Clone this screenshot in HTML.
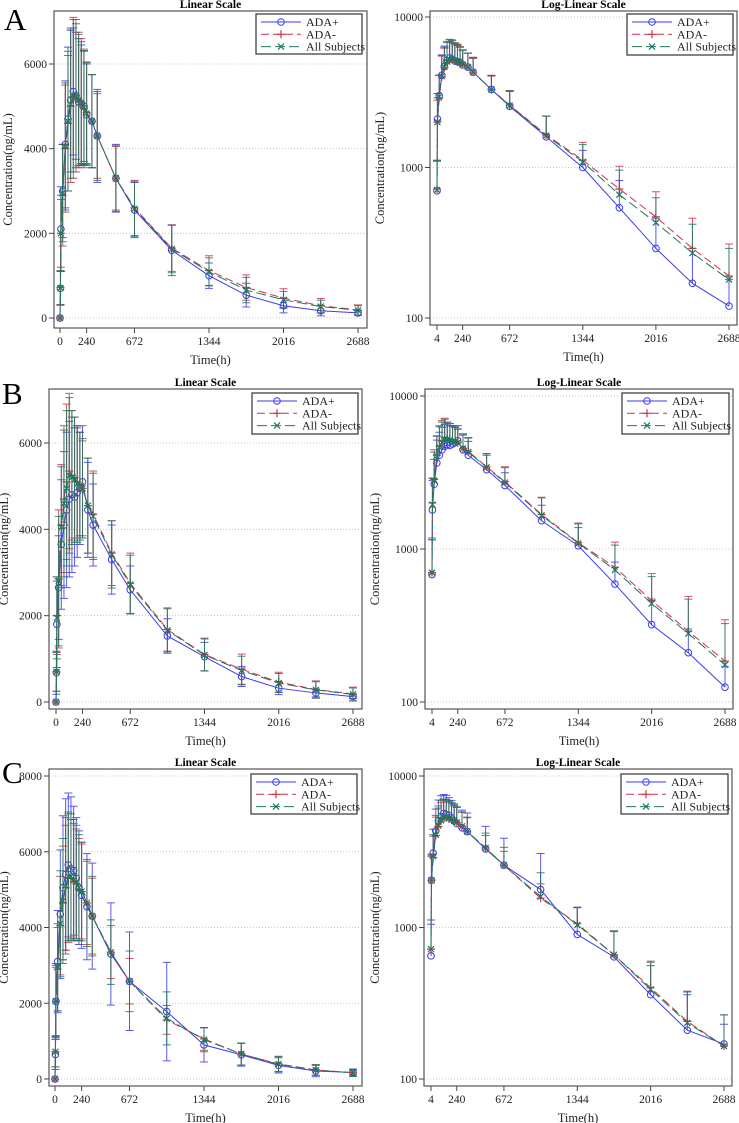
<!DOCTYPE html>
<html><head><meta charset="utf-8">
<style>
html,body{margin:0;padding:0;background:#fff;}
svg{display:block;font-family:"Liberation Serif",serif;}
svg text{font-family:"Liberation Serif",serif;}
</style></head>
<body>
<svg id="fig" xmlns="http://www.w3.org/2000/svg" width="739" height="1123" viewBox="0 0 739 1123">
<text x="4" y="30" font-size="31">A</text>
<text x="2" y="404" font-size="31">B</text>
<text x="2" y="783" font-size="31">C</text>
</svg>
<script>
// ---- data ----
const times = [0,4,8,24,48,72,96,120,144,168,192,216,240,288,336,504,672,1008,1344,1680,2016,2352,2688];
const groupNames = ["ADA+","ADA-","All Subjects"];
const linTickLabelsAB = [0,2000,4000,6000];
const linTickLabelsC = [0,2000,4000,6000,8000];
const logTickLabels = [100,1000,10000];
const xTickLinear = [0,240,672,1344,2016,2688];
const xTickLog = [4,240,672,1344,2016,2688];

const aPosMean = [0,700,2100,3000,4100,4700,5150,5350,5250,5100,5050,5000,4800,4650,4300,3300,2550,1600,1000,540,290,170,120];
const aPosSd   = [0,400,1000,1100,1500,1700,1700,1500,1500,1500,1400,1300,1200,1100,1100,800,650,600,300,280,170,120,60];
const aNegMean = [0,720,2000,2900,4000,4600,5000,5200,5250,5150,5100,4950,4850,4650,4300,3300,2600,1650,1120,720,470,290,190];
const aNegSd   = [0,400,800,1200,1500,1600,1800,1900,1800,1600,1500,1400,1200,1100,1000,750,650,550,350,300,220,170,120];
const aAllMean = [0,710,2000,2950,4050,4650,5050,5250,5250,5150,5080,4970,4830,4650,4300,3300,2580,1630,1090,660,430,270,180];
const aAllSd   = [0,400,900,1150,1500,1650,1750,1800,1700,1550,1450,1350,1200,1100,1050,780,650,560,330,300,200,150,110];

const bPosMean = [0,680,1800,2650,3650,4100,4450,4700,4800,4750,4850,4950,5100,4450,4100,3300,2600,1530,1050,590,320,210,125];
const bPosSd   = [0,500,1000,1200,1500,1700,1800,1800,1800,1600,1500,1300,1300,1100,950,800,550,400,330,230,150,90,45];
const bNegMean = [0,700,2000,2850,4100,4700,5100,5350,5250,5200,5100,5050,4950,4550,4350,3450,2750,1680,1100,760,460,290,185];
const bNegSd   = [0,450,900,1600,1400,1700,1800,1800,1500,1400,1300,1200,1100,1100,1000,750,700,500,380,350,230,200,160];
const bAllMean = [0,700,1950,2800,4050,4600,4950,5250,5200,5150,5050,5000,4950,4550,4300,3420,2720,1660,1090,730,440,280,175];
const bAllSd   = [0,450,950,1500,1400,1700,1800,1800,1550,1450,1350,1250,1150,1100,1000,780,680,500,370,330,220,190,150];

const cPosMean = [0,650,2050,3100,4350,5050,5400,5650,5550,5500,5300,5050,4850,4550,4300,3300,2580,1780,900,640,360,210,170];
const cPosSd   = [0,400,1000,1350,1700,1900,2000,1900,1900,1700,1600,1500,1400,1400,1400,1350,1300,1300,450,300,200,150,60];
const cNegMean = [0,720,2050,2900,4050,4650,5050,5300,5300,5200,5150,5000,4950,4650,4300,3350,2580,1560,1060,660,400,240,165];
const cNegSd   = [0,400,900,1100,1300,1500,1650,1700,1550,1550,1450,1350,1250,1100,1000,700,600,380,300,290,200,140,100];
const cAllMean = [0,720,2050,2950,4100,4700,5100,5350,5350,5250,5200,5050,4950,4650,4300,3350,2580,1600,1040,660,390,235,165];
const cAllSd   = [0,400,950,1150,1400,1650,1800,1700,1650,1600,1500,1400,1300,1150,1050,850,800,700,320,290,200,140,100];

// ---- drawing ----
const NS = "http://www.w3.org/2000/svg";
const svg = document.getElementById("fig");
const COLORS = ["#3b3bef","#cc3346","#1c7a5c"];
const DASH = ["", "8,4", "10,4"];
function mk(tag, attrs, parent){
  const e = document.createElementNS(NS, tag);
  for (const k in attrs) e.setAttribute(k, attrs[k]);
  (parent||svg).appendChild(e);
  return e;
}
function marker(g, gi, x, y){
  const c = COLORS[gi];
  if (gi === 0){
    const m = mk("circle",{cx:x,cy:y,r:3.3,fill:"none",stroke:c,"stroke-width":1},g);
    
    
  } else if (gi === 1){
    const m = mk("path",{d:`M${x-4},${y}H${x+4}M${x},${y-4}V${y+4}`,stroke:c,"stroke-width":1.2,fill:"none"},g);
    
    
  } else {
    const m = mk("path",{d:`M${x-3},${y-3}L${x+3},${y+3}M${x-3},${y+3}L${x+3},${y-3}`,stroke:c,"stroke-width":1.2,fill:"none"},g);
    
    
  }
}
function panel(cfg, means, sds, key){
  const g = mk("g",{});
  
  
  const xS = t => cfg.xA + (t - cfg.tA) * (cfg.xB - cfg.xA) / (cfg.tB - cfg.tA);
  let yS;
  if (cfg.log) yS = v => cfg.y100 - (Math.log10(v) - 2) / 2 * (cfg.y100 - cfg.y10000);
  else yS = v => cfg.y0 - v * (cfg.y0 - cfg.yTop) / cfg.topVal;
  const yt = cfg.log ? logTickLabels : cfg.yTicks;
  yt.forEach(v=>{
    const y = yS(v);
    const gl = mk("line",{x1:cfg.fl,x2:cfg.fr,y1:y,y2:y,stroke:"#bbb","stroke-width":0.8,"stroke-dasharray":"1,2"},g);
    
    
    mk("line",{x1:cfg.fl-5,x2:cfg.fl,y1:y,y2:y,stroke:"#444","stroke-width":1},g);
    const tl = mk("text",{x:cfg.fl-7,y:y+4,"font-size":11.5,"text-anchor":"end",fill:"#222"},g);
    tl.textContent = v;
    
    
  });
  (cfg.log ? xTickLog : xTickLinear).forEach(t=>{
    const x = xS(t);
    mk("line",{x1:x,x2:x,y1:cfg.fb,y2:cfg.fb+5,stroke:"#444","stroke-width":1},g);
    const tl = mk("text",{x:x,y:cfg.fb+17,"font-size":11.5,"text-anchor":"middle",fill:"#222"},g);
    tl.textContent = t;
    
    
  });
  const fr = mk("rect",{x:cfg.fl,y:cfg.ft,width:cfg.fr-cfg.fl,height:cfg.fb-cfg.ft,fill:"none",stroke:"#555","stroke-width":1.2},g);
  
  
  const ti = mk("text",{x:(cfg.fl+cfg.fr)/2,y:cfg.ft-3,"font-size":11.5,"font-weight":"bold","text-anchor":"middle"},g);
  ti.textContent = cfg.log ? "Log-Linear Scale" : "Linear Scale";
  
  
  const xl = mk("text",{x:(cfg.fl+cfg.fr)/2,y:cfg.fb+36,"font-size":12.5,"text-anchor":"middle",fill:"#222"},g);
  xl.textContent = "Time(h)";
  
  
  const ym = (cfg.ft+cfg.fb)/2;
  const yl = mk("text",{x:cfg.yLabX,y:ym,"font-size":12.5,"text-anchor":"middle",fill:"#222",transform:`rotate(-90 ${cfg.yLabX} ${ym})`},g);
  yl.textContent = "Concentration(ng/mL)";
  
  
  for (let gi=0; gi<3; gi++){
    const sg = mk("g",{},g);
    
    
    const m = means[gi], s = sds[gi], c = COLORS[gi];
    const pts = [];
    times.forEach((t,i)=>{
      if (cfg.log && m[i] <= 0) return;
      pts.push([xS(t), yS(m[i]), i]);
    });
    pts.forEach(([x,y,i])=>{
      if (s[i] <= 0) return;
      const up = yS(m[i]+s[i]);
      let lo = y;
      if (!cfg.log) lo = yS(Math.max(0, m[i]-s[i]));
      const eb = mk("path",{d:`M${x},${up}V${lo}M${x-4},${up}H${x+4}`+(cfg.log?"":`M${x-4},${lo}H${x+4}`),stroke:c,"stroke-width":1,fill:"none","stroke-opacity":0.85},sg);
      
      
    });
    const ln = mk("polyline",{points:pts.map(p=>p[0]+","+p[1]).join(" "),fill:"none",stroke:c,"stroke-width":1,"stroke-dasharray":DASH[gi]},sg);
    
    
    pts.forEach(([x,y])=>marker(sg,gi,x,y));
  }
  const L = cfg.leg;
  const lg = mk("g",{},g);
  
  
  mk("rect",{x:L.x,y:L.y,width:L.w,height:L.h,fill:"#fff",stroke:"#333","stroke-width":1.2},lg);
  for (let gi=0; gi<3; gi++){
    const yy = L.y + 8 + gi*12.3;
    const e = mk("g",{},lg);
    
    
    mk("line",{x1:L.x+5,x2:L.x+45,y1:yy,y2:yy,stroke:COLORS[gi],"stroke-width":1,"stroke-dasharray":DASH[gi]},e);
    marker(e,gi,L.x+25,yy);
    const t = mk("text",{x:L.x+50,y:yy+4,"font-size":12,fill:"#222"},e);
    t.textContent = groupNames[gi];
  }
}
const A = [[aPosMean,aNegMean,aAllMean],[aPosSd,aNegSd,aAllSd]];
const B = [[bPosMean,bNegMean,bAllMean],[bPosSd,bNegSd,bAllSd]];
const C = [[cPosMean,cNegMean,cAllMean],[cPosSd,cNegSd,cAllSd]];
panel({log:false,fl:54,fr:367,ft:11,fb:328,tA:0,tB:2688,xA:60,xB:358,y0:318,yTop:64,topVal:6000,yTicks:linTickLabelsAB,yLabX:12,leg:{x:256,y:14,w:106,h:40}},A[0],A[1],"panel-a-linear");
panel({log:true,fl:430,fr:737,ft:11,fb:325,tA:4,tB:2688,xA:437,xB:729,y100:318,y10000:17,yLabX:384,leg:{x:627,y:14,w:106,h:41}},A[0],A[1],"panel-a-log");
panel({log:false,fl:49,fr:362,ft:389,fb:709,tA:0,tB:2688,xA:56,xB:353,y0:702,yTop:443,topVal:6000,yTicks:linTickLabelsAB,yLabX:8,leg:{x:252,y:393,w:106,h:41}},B[0],B[1],"panel-b-linear");
panel({log:true,fl:425,fr:733,ft:389,fb:709,tA:4,tB:2688,xA:432,xB:725,y100:702,y10000:396,yLabX:379,leg:{x:622,y:393,w:107,h:41}},B[0],B[1],"panel-b-log");
panel({log:false,fl:49,fr:362,ft:769,fb:1086,tA:0,tB:2688,xA:55,xB:353,y0:1079,yTop:776,topVal:8000,yTicks:linTickLabelsC,yLabX:8,leg:{x:251,y:774,w:106,h:40}},C[0],C[1],"panel-c-linear");
panel({log:true,fl:424,fr:732,ft:769,fb:1086,tA:4,tB:2688,xA:431,xB:724,y100:1079,y10000:776,yLabX:379,leg:{x:621,y:774,w:107,h:40}},C[0],C[1],"panel-c-log");
</script>
</body></html>
